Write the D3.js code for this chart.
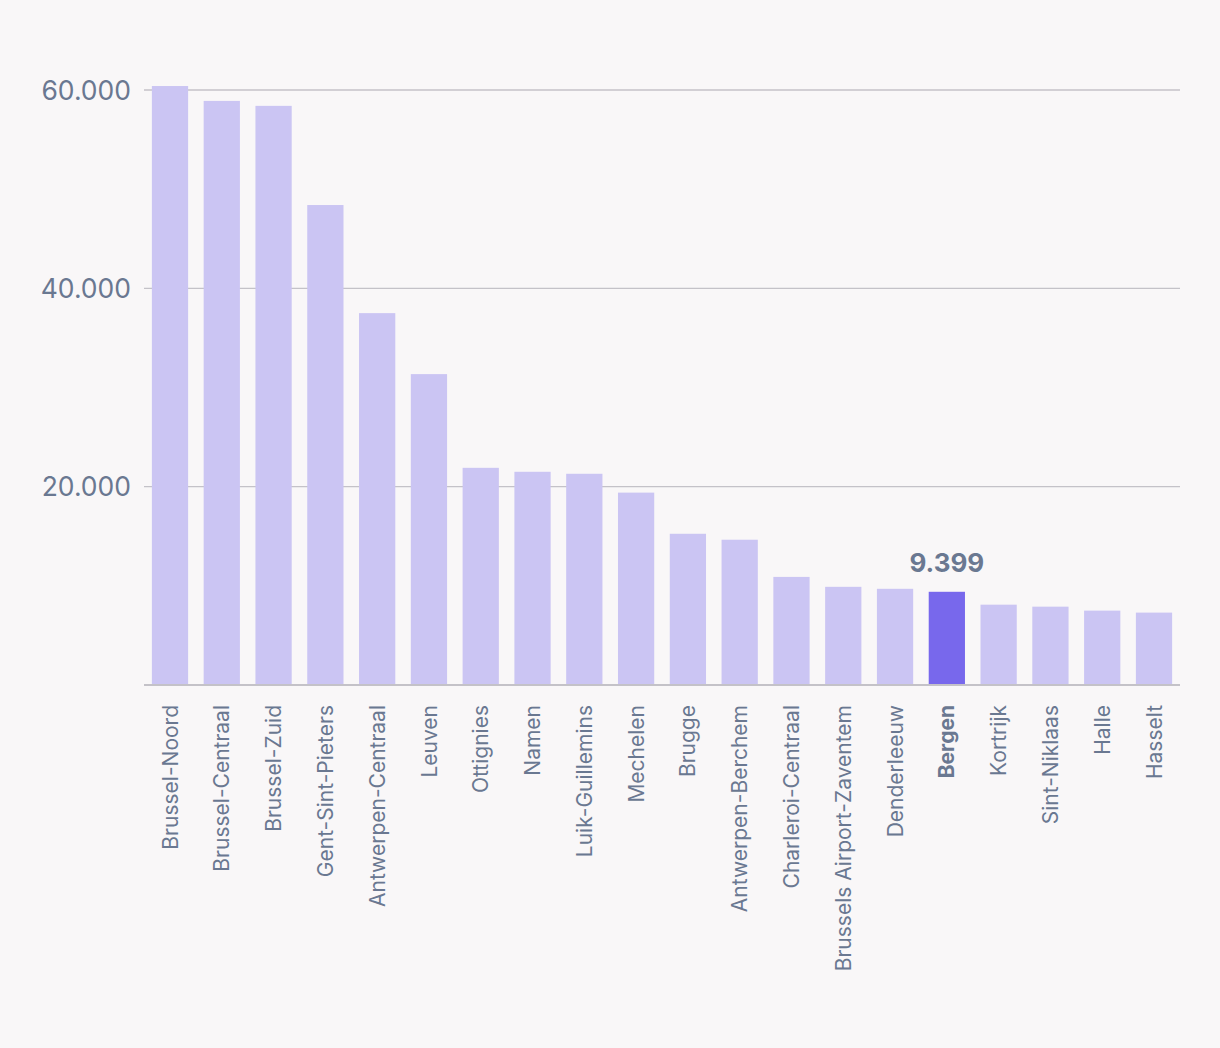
<!DOCTYPE html>
<html>
<head>
<meta charset="utf-8">
<script src="https://cdn.jsdelivr.net/npm/d3@7"></script>
<style>
  html, body { margin: 0; padding: 0; background: #f9f7f8; }
  svg { display: block; }
</style>
</head>
<body>
<svg id="chart" width="1220" height="1048"></svg>
<script>
const stations = ["Brussel-Noord","Brussel-Centraal","Brussel-Zuid","Gent-Sint-Pieters","Antwerpen-Centraal","Leuven","Ottignies","Namen","Luik-Guillemins","Mechelen","Brugge","Antwerpen-Berchem","Charleroi-Centraal","Brussels Airport-Zaventem","Denderleeuw","Bergen","Kortrijk","Sint-Niklaas","Halle","Hasselt"];
const travellers = [60400,58900,58400,48400,37500,31350,21900,21500,21300,19400,15250,14650,10900,9900,9700,9399,8100,7900,7500,7300];
const highlight = "Bergen";
const yTicks = [20000,40000,60000];

const W = 1220, H = 1048;
const mLeft = 144, mRight = 1180, mTop = 90, mBottom = 685;
const svg = d3.select("#chart");
svg.append("rect").attr("width", W).attr("height", H).attr("fill", "#f9f7f8");

const x = d3.scaleBand().domain(stations).range([mLeft, mRight]).paddingInner(0.3).paddingOuter(0.152);
const y = d3.scaleLinear().domain([0, 60000]).range([mBottom, mTop]);

const fmt = v => d3.format(",")(v).replace(/,/g, ".");
const textColor = "#6a7891";
const font = "Inter, 'Noto Sans', sans-serif";

// gridlines
svg.append("g").selectAll("line").data(yTicks).join("line")
  .attr("x1", mLeft).attr("x2", mRight)
  .attr("y1", d => y(d)).attr("y2", d => y(d))
  .attr("stroke", "#c4c2c8").attr("stroke-width", 1.3);

// y labels
svg.append("g").selectAll("text").data(yTicks).join("text")
  .attr("x", 131).attr("y", d => y(d)).attr("dy", "0.36em")
  .attr("text-anchor", "end")
  .attr("font-family", font).attr("font-size", 26.5)
  .attr("fill", textColor)
  .text(fmt);

// bars
svg.append("g").selectAll("rect").data(stations).join("rect")
  .attr("x", d => x(d)).attr("width", x.bandwidth())
  .attr("y", (d, i) => y(travellers[i]))
  .attr("height", (d, i) => mBottom - y(travellers[i]))
  .attr("fill", d => d === highlight ? "#7868ec" : "#cbc5f3");

// baseline
svg.append("line").attr("x1", mLeft).attr("x2", mRight)
  .attr("y1", mBottom).attr("y2", mBottom)
  .attr("stroke", "#c4c2c8").attr("stroke-width", 2);

// x labels
svg.append("g").selectAll("text").data(stations).join("text")
  .attr("transform", d => `translate(${x(d) + x.bandwidth()/2},705) rotate(-90)`)
  .attr("dy", "0.36em")
  .attr("text-anchor", "end")
  .attr("font-family", font).attr("font-size", 21)
  .attr("font-weight", d => d === highlight ? 700 : 400)
  .attr("fill", textColor)
  .text(d => d);

// value label
const hi = stations.indexOf(highlight);
svg.append("text")
  .attr("x", x(highlight) + x.bandwidth()/2)
  .attr("y", y(travellers[hi]) - 20)
  .attr("text-anchor", "middle")
  .attr("font-family", font).attr("font-size", 26).attr("font-weight", 700)
  .attr("fill", textColor)
  .text(fmt(travellers[hi]));
</script>
</body>
</html>
